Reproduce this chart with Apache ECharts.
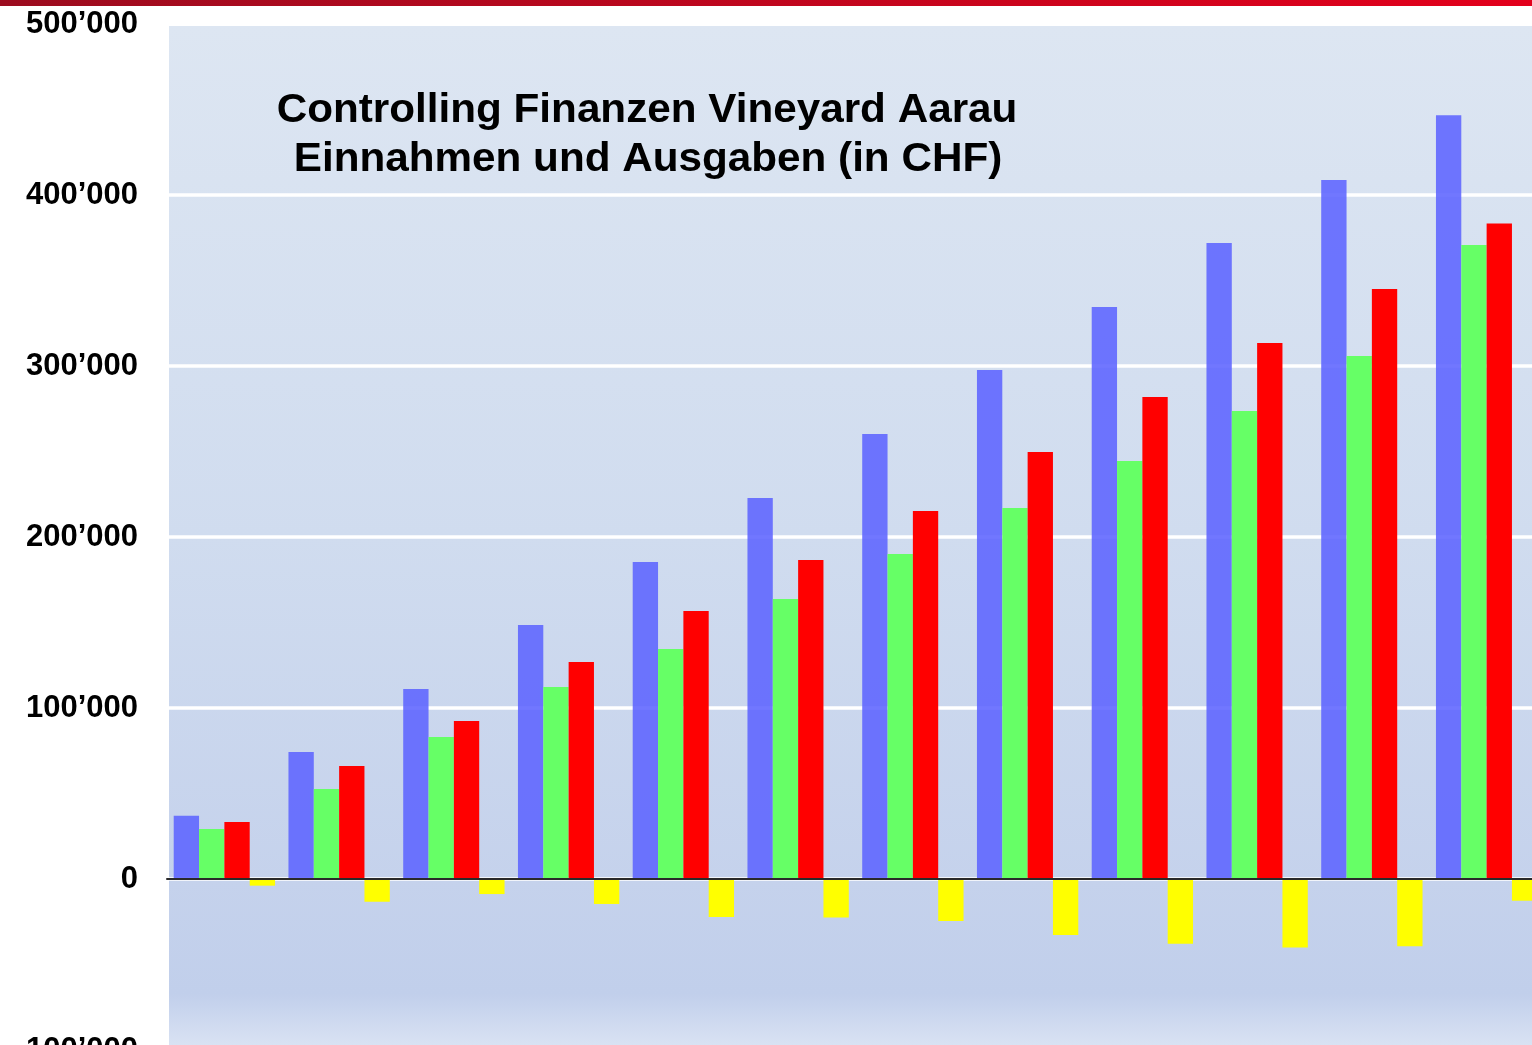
<!DOCTYPE html>
<html>
<head>
<meta charset="utf-8">
<title>Controlling Finanzen Vineyard Aarau</title>
<script src="https://cdn.jsdelivr.net/npm/echarts@6/dist/echarts.min.js"></script>
<style>
html,body{margin:0;padding:0;background:#fff;}
#chart{width:1532px;height:1045px;}
</style>
</head>
<body>
<div id="chart"></div>
<script>
// ---- data (CHF) ----
var categories = ['1','2','3','4','5','6','7','8','9','10','11','12'];
var seriesBlue   = [37000, 74300, 111100, 148500, 185400, 222800, 260200, 297700, 334500, 371900, 408800, 446600];
var seriesGreen  = [29200, 52600, 83000, 112300, 134500, 163700, 190100, 217000, 244400, 273700, 305800, 370800];
var seriesRed    = [33300, 66100, 92400, 126900, 156700, 186500, 215200, 249700, 281900, 313500, 345000, 383400];
var seriesYellow = [-3900, -13300, -8800, -14600, -22200, -22500, -24600, -32700, -37800, -40000, -39400, -12700];
var titleLines = ['Controlling Finanzen Vineyard Aarau', 'Einnahmen und Ausgaben (in CHF)'];
var yMin = -100000, yMax = 500000, yStep = 100000;

function fmt(v) {
  var s = Math.abs(v).toString().replace(/\B(?=(\d{3})+(?!\d))/g, '\u2019');
  return (v < 0 ? '-' : '') + s;
}

var chart = echarts.init(document.getElementById('chart'), null, {renderer: 'canvas'});
var font = '"Liberation Sans", Arial, Helvetica, sans-serif';

function barSeries(name, data, color) {
  return {
    name: name,
    type: 'bar',
    data: data,
    barGap: '0%',
    barCategoryGap: '11.7%',
    itemStyle: {color: color},
    emphasis: {disabled: true},
    animation: false
  };
}

chart.setOption({
  animation: false,
  backgroundColor: '#ffffff',
  grid: {left: 167, top: 24, width: 1377, height: 1026, containLabel: false, outerBoundsMode: 'none'},
  graphic: [
    {
      type: 'rect', z: -1, silent: true,
      shape: {x: 169, y: 26, width: 1400, height: 1019},
      style: {
        fill: new echarts.graphic.LinearGradient(0, 0, 0, 1, [
          {offset: 0, color: '#dde6f2'},
          {offset: 0.5, color: '#d0dcef'},
          {offset: 0.838, color: '#c5d2ec'},
          {offset: 0.95, color: '#c1cfeb'},
          {offset: 1, color: '#d9e2f3'}
        ])
      }
    },
    {
      type: 'rect', z: 10, silent: true,
      shape: {x: 0, y: 0, width: 1532, height: 6},
      style: {
        fill: new echarts.graphic.LinearGradient(0, 0, 1, 0, [
          {offset: 0, color: '#9c0c1f'},
          {offset: 1, color: '#e3001c'}
        ])
      }
    },
    {
      type: 'text', z: 10, silent: true,
      x: 647, y: 111, scaleX: 1.03,
      style: {text: titleLines[0], font: 'bold 41px ' + font, fill: '#000', align: 'center', verticalAlign: 'middle'}
    },
    {
      type: 'text', z: 10, silent: true,
      x: 648, y: 160, scaleX: 1.03,
      style: {text: titleLines[1], font: 'bold 41px ' + font, fill: '#000', align: 'center', verticalAlign: 'middle'}
    }
  ],
  xAxis: {
    type: 'category',
    data: categories,
    z: 5,
    axisLine: {show: true, onZero: true, lineStyle: {color: '#2a2a2a', width: 2}},
    axisTick: {show: false},
    axisLabel: {show: false},
    splitLine: {show: false}
  },
  yAxis: {
    type: 'value',
    min: yMin, max: yMax, interval: yStep,
    axisLine: {show: false},
    axisTick: {show: false},
    axisLabel: {
      show: true, showMinLabel: true, showMaxLabel: true,
      margin: 29,
      formatter: fmt,
      color: '#000',
      fontSize: 31,
      fontWeight: 'bold',
      fontFamily: font
    },
    splitLine: {show: true, lineStyle: {color: '#ffffff', width: 3.5}}
  },
  series: [
    barSeries('Blau', seriesBlue, 'rgba(93,100,255,0.88)'),
    barSeries('Grün', seriesGreen, '#66ff66'),
    barSeries('Rot', seriesRed, '#ff0000'),
    barSeries('Gelb', seriesYellow, '#ffff00')
  ]
});
</script>
</body>
</html>
